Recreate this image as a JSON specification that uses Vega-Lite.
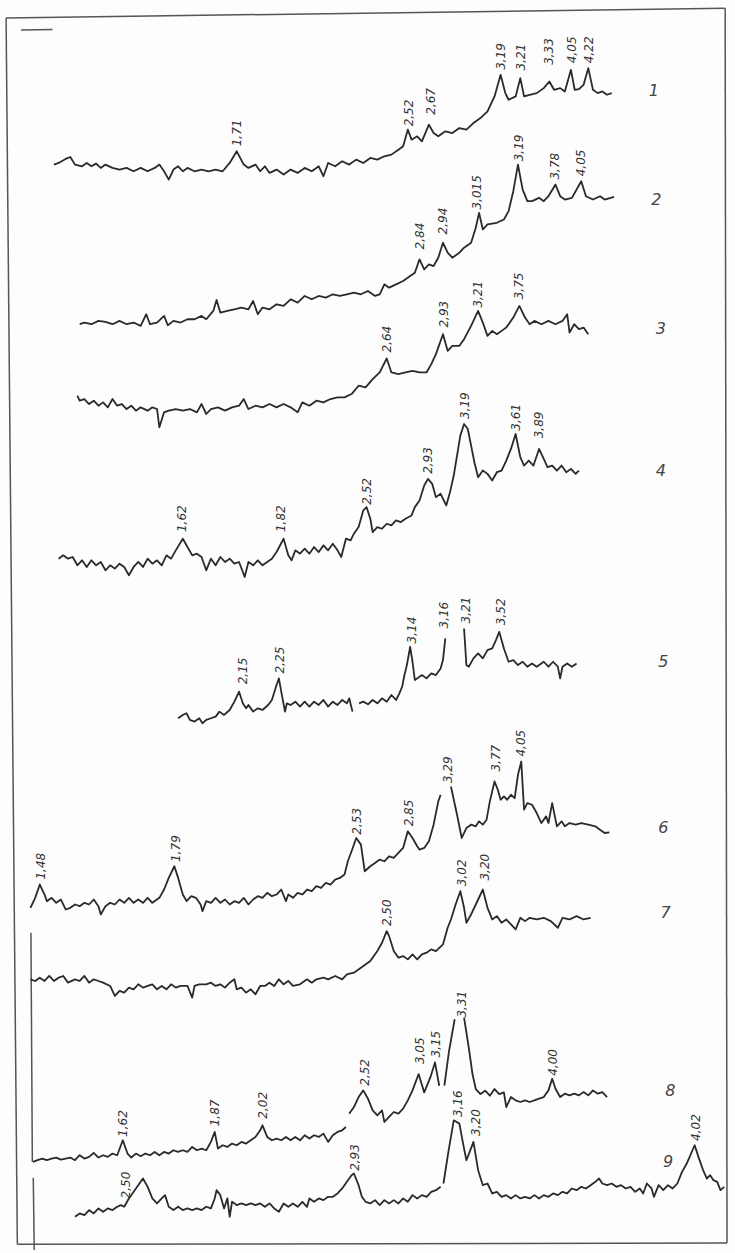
{
"$schema":"https://vega.github.io/schema/vega-lite/v6.json",
"width":735,"height":1253,"autosize":{"type":"fit","contains":"padding"},"padding":0,
"background":"#fdfdfd",
"config":{"view":{"stroke":null}},
"datasets":{
"fr":[
{"s":"top","x":13,"y":54},{"s":"top","x":1547,"y":25},
{"s":"left","x":13,"y":54},{"s":"left","x":37,"y":3742},
{"s":"right","x":1547,"y":25},{"s":"right","x":1551,"y":3738},
{"s":"bottom","x":37,"y":3742},{"s":"bottom","x":1551,"y":3738},
{"s":"dash","x":45,"y":90},{"s":"dash","x":112,"y":89},
{"s":"v1","x":66,"y":2805},{"s":"v1","x":69,"y":3494},
{"s":"v2","x":71,"y":3542},{"s":"v2","x":73,"y":3759}
],
"tr":[
{"s":"1","x":115,"y":495},{"s":"1","x":125,"y":490},{"s":"1","x":140,"y":478},{"s":"1","x":150,"y":472},{"s":"1","x":160,"y":495},{"s":"1","x":175,"y":500},{"s":"1","x":185,"y":490},{"s":"1","x":195,"y":500},{"s":"1","x":205,"y":492},{"s":"1","x":215,"y":505},{"s":"1","x":225,"y":495},{"s":"1","x":240,"y":505},{"s":"1","x":255,"y":510},{"s":"1","x":270,"y":505},{"s":"1","x":285,"y":515},{"s":"1","x":300,"y":505},{"s":"1","x":315,"y":515},{"s":"1","x":330,"y":505},{"s":"1","x":340,"y":495},{"s":"1","x":350,"y":515},{"s":"1","x":360,"y":540},{"s":"1","x":370,"y":510},{"s":"1","x":380,"y":500},{"s":"1","x":390,"y":515},{"s":"1","x":400,"y":505},{"s":"1","x":415,"y":515},{"s":"1","x":430,"y":510},{"s":"1","x":445,"y":515},{"s":"1","x":460,"y":510},{"s":"1","x":475,"y":515},{"s":"1","x":490,"y":490},{"s":"1","x":505,"y":455},{"s":"1","x":520,"y":495},{"s":"1","x":530,"y":505},{"s":"1","x":545,"y":495},{"s":"1","x":555,"y":515},{"s":"1","x":565,"y":500},{"s":"1","x":575,"y":520},{"s":"1","x":590,"y":510},{"s":"1","x":605,"y":525},{"s":"1","x":620,"y":510},{"s":"1","x":635,"y":520},{"s":"1","x":650,"y":505},{"s":"1","x":665,"y":515},{"s":"1","x":680,"y":500},{"s":"1","x":690,"y":530},{"s":"1","x":700,"y":490},{"s":"1","x":715,"y":500},{"s":"1","x":730,"y":485},{"s":"1","x":745,"y":495},{"s":"1","x":760,"y":480},{"s":"1","x":775,"y":490},{"s":"1","x":790,"y":475},{"s":"1","x":805,"y":480},{"s":"1","x":820,"y":470},{"s":"1","x":835,"y":465},{"s":"1","x":850,"y":450},{"s":"1","x":860,"y":440},{"s":"1","x":870,"y":390},{"s":"1","x":878,"y":420},{"s":"1","x":890,"y":410},{"s":"1","x":900,"y":425},{"s":"1","x":915,"y":375},{"s":"1","x":925,"y":400},{"s":"1","x":935,"y":410},{"s":"1","x":950,"y":395},{"s":"1","x":965,"y":400},{"s":"1","x":980,"y":385},{"s":"1","x":995,"y":390},{"s":"1","x":1010,"y":370},{"s":"1","x":1025,"y":355},{"s":"1","x":1040,"y":335},{"s":"1","x":1055,"y":290},{"s":"1","x":1068,"y":225},{"s":"1","x":1078,"y":280},{"s":"1","x":1085,"y":300},{"s":"1","x":1100,"y":290},{"s":"1","x":1110,"y":235},{"s":"1","x":1118,"y":290},{"s":"1","x":1130,"y":285},{"s":"1","x":1145,"y":280},{"s":"1","x":1160,"y":265},{"s":"1","x":1172,"y":245},{"s":"1","x":1182,"y":270},{"s":"1","x":1195,"y":265},{"s":"1","x":1205,"y":275},{"s":"1","x":1218,"y":210},{"s":"1","x":1226,"y":270},{"s":"1","x":1235,"y":268},{"s":"1","x":1245,"y":255},{"s":"1","x":1255,"y":205},{"s":"1","x":1265,"y":270},{"s":"1","x":1275,"y":280},{"s":"1","x":1285,"y":275},{"s":"1","x":1295,"y":285},{"s":"1","x":1305,"y":280},
{"s":"2","x":170,"y":975},{"s":"2","x":180,"y":970},{"s":"2","x":195,"y":975},{"s":"2","x":210,"y":965},{"s":"2","x":225,"y":968},{"s":"2","x":240,"y":975},{"s":"2","x":255,"y":965},{"s":"2","x":270,"y":975},{"s":"2","x":285,"y":970},{"s":"2","x":300,"y":980},{"s":"2","x":312,"y":945},{"s":"2","x":320,"y":975},{"s":"2","x":335,"y":970},{"s":"2","x":350,"y":950},{"s":"2","x":358,"y":978},{"s":"2","x":370,"y":965},{"s":"2","x":385,"y":970},{"s":"2","x":400,"y":960},{"s":"2","x":415,"y":960},{"s":"2","x":430,"y":950},{"s":"2","x":440,"y":960},{"s":"2","x":455,"y":935},{"s":"2","x":462,"y":902},{"s":"2","x":470,"y":940},{"s":"2","x":485,"y":935},{"s":"2","x":500,"y":930},{"s":"2","x":515,"y":925},{"s":"2","x":530,"y":930},{"s":"2","x":540,"y":905},{"s":"2","x":550,"y":945},{"s":"2","x":560,"y":925},{"s":"2","x":575,"y":930},{"s":"2","x":590,"y":915},{"s":"2","x":605,"y":920},{"s":"2","x":620,"y":900},{"s":"2","x":635,"y":910},{"s":"2","x":650,"y":890},{"s":"2","x":665,"y":900},{"s":"2","x":680,"y":890},{"s":"2","x":695,"y":895},{"s":"2","x":710,"y":885},{"s":"2","x":725,"y":890},{"s":"2","x":740,"y":885},{"s":"2","x":755,"y":880},{"s":"2","x":770,"y":885},{"s":"2","x":785,"y":875},{"s":"2","x":800,"y":890},{"s":"2","x":810,"y":885},{"s":"2","x":820,"y":855},{"s":"2","x":830,"y":865},{"s":"2","x":845,"y":855},{"s":"2","x":860,"y":845},{"s":"2","x":875,"y":830},{"s":"2","x":885,"y":820},{"s":"2","x":895,"y":780},{"s":"2","x":905,"y":810},{"s":"2","x":915,"y":795},{"s":"2","x":925,"y":800},{"s":"2","x":935,"y":775},{"s":"2","x":945,"y":730},{"s":"2","x":955,"y":760},{"s":"2","x":965,"y":775},{"s":"2","x":980,"y":760},{"s":"2","x":990,"y":745},{"s":"2","x":1005,"y":730},{"s":"2","x":1015,"y":685},{"s":"2","x":1022,"y":640},{"s":"2","x":1030,"y":690},{"s":"2","x":1040,"y":675},{"s":"2","x":1060,"y":670},{"s":"2","x":1075,"y":660},{"s":"2","x":1085,"y":635},{"s":"2","x":1095,"y":575},{"s":"2","x":1105,"y":495},{"s":"2","x":1115,"y":570},{"s":"2","x":1125,"y":605},{"s":"2","x":1135,"y":605},{"s":"2","x":1150,"y":595},{"s":"2","x":1160,"y":605},{"s":"2","x":1170,"y":590},{"s":"2","x":1185,"y":555},{"s":"2","x":1195,"y":590},{"s":"2","x":1205,"y":600},{"s":"2","x":1220,"y":595},{"s":"2","x":1240,"y":545},{"s":"2","x":1250,"y":590},{"s":"2","x":1265,"y":600},{"s":"2","x":1280,"y":590},{"s":"2","x":1290,"y":600},{"s":"2","x":1310,"y":592},
{"s":"3","x":165,"y":1190},{"s":"3","x":170,"y":1205},{"s":"3","x":180,"y":1200},{"s":"3","x":190,"y":1215},{"s":"3","x":200,"y":1205},{"s":"3","x":210,"y":1220},{"s":"3","x":220,"y":1210},{"s":"3","x":230,"y":1225},{"s":"3","x":240,"y":1200},{"s":"3","x":250,"y":1220},{"s":"3","x":260,"y":1215},{"s":"3","x":270,"y":1230},{"s":"3","x":280,"y":1220},{"s":"3","x":290,"y":1235},{"s":"3","x":300,"y":1225},{"s":"3","x":315,"y":1235},{"s":"3","x":325,"y":1225},{"s":"3","x":335,"y":1230},{"s":"3","x":340,"y":1285},{"s":"3","x":350,"y":1240},{"s":"3","x":360,"y":1235},{"s":"3","x":375,"y":1230},{"s":"3","x":390,"y":1235},{"s":"3","x":405,"y":1230},{"s":"3","x":420,"y":1240},{"s":"3","x":430,"y":1215},{"s":"3","x":440,"y":1245},{"s":"3","x":450,"y":1230},{"s":"3","x":465,"y":1225},{"s":"3","x":480,"y":1235},{"s":"3","x":495,"y":1225},{"s":"3","x":510,"y":1220},{"s":"3","x":520,"y":1200},{"s":"3","x":530,"y":1230},{"s":"3","x":545,"y":1220},{"s":"3","x":560,"y":1225},{"s":"3","x":575,"y":1215},{"s":"3","x":590,"y":1225},{"s":"3","x":605,"y":1215},{"s":"3","x":620,"y":1225},{"s":"3","x":635,"y":1240},{"s":"3","x":645,"y":1210},{"s":"3","x":660,"y":1220},{"s":"3","x":675,"y":1205},{"s":"3","x":690,"y":1210},{"s":"3","x":705,"y":1200},{"s":"3","x":720,"y":1195},{"s":"3","x":735,"y":1195},{"s":"3","x":750,"y":1185},{"s":"3","x":765,"y":1160},{"s":"3","x":780,"y":1165},{"s":"3","x":795,"y":1140},{"s":"3","x":810,"y":1120},{"s":"3","x":825,"y":1078},{"s":"3","x":835,"y":1120},{"s":"3","x":850,"y":1125},{"s":"3","x":865,"y":1120},{"s":"3","x":880,"y":1115},{"s":"3","x":895,"y":1120},{"s":"3","x":910,"y":1120},{"s":"3","x":920,"y":1095},{"s":"3","x":930,"y":1065},{"s":"3","x":945,"y":1005},{"s":"3","x":955,"y":1055},{"s":"3","x":965,"y":1040},{"s":"3","x":980,"y":1040},{"s":"3","x":990,"y":1020},{"s":"3","x":1005,"y":980},{"s":"3","x":1020,"y":935},{"s":"3","x":1030,"y":970},{"s":"3","x":1040,"y":1010},{"s":"3","x":1050,"y":995},{"s":"3","x":1060,"y":1005},{"s":"3","x":1070,"y":995},{"s":"3","x":1080,"y":985},{"s":"3","x":1095,"y":955},{"s":"3","x":1108,"y":920},{"s":"3","x":1120,"y":955},{"s":"3","x":1130,"y":975},{"s":"3","x":1140,"y":965},{"s":"3","x":1155,"y":975},{"s":"3","x":1170,"y":965},{"s":"3","x":1185,"y":975},{"s":"3","x":1200,"y":965},{"s":"3","x":1210,"y":945},{"s":"3","x":1215,"y":1000},{"s":"3","x":1225,"y":975},{"s":"3","x":1235,"y":990},{"s":"3","x":1245,"y":985},{"s":"3","x":1255,"y":1005},
{"s":"4","x":125,"y":1680},{"s":"4","x":135,"y":1670},{"s":"4","x":145,"y":1680},{"s":"4","x":155,"y":1675},{"s":"4","x":165,"y":1700},{"s":"4","x":175,"y":1685},{"s":"4","x":185,"y":1705},{"s":"4","x":195,"y":1685},{"s":"4","x":205,"y":1700},{"s":"4","x":215,"y":1690},{"s":"4","x":225,"y":1715},{"s":"4","x":235,"y":1700},{"s":"4","x":245,"y":1710},{"s":"4","x":255,"y":1695},{"s":"4","x":265,"y":1705},{"s":"4","x":275,"y":1730},{"s":"4","x":285,"y":1705},{"s":"4","x":295,"y":1690},{"s":"4","x":305,"y":1705},{"s":"4","x":315,"y":1680},{"s":"4","x":325,"y":1695},{"s":"4","x":335,"y":1685},{"s":"4","x":345,"y":1700},{"s":"4","x":355,"y":1670},{"s":"4","x":365,"y":1680},{"s":"4","x":375,"y":1655},{"s":"4","x":390,"y":1620},{"s":"4","x":400,"y":1645},{"s":"4","x":410,"y":1670},{"s":"4","x":420,"y":1665},{"s":"4","x":430,"y":1675},{"s":"4","x":440,"y":1715},{"s":"4","x":450,"y":1680},{"s":"4","x":460,"y":1700},{"s":"4","x":470,"y":1675},{"s":"4","x":480,"y":1690},{"s":"4","x":490,"y":1680},{"s":"4","x":500,"y":1695},{"s":"4","x":510,"y":1690},{"s":"4","x":522,"y":1735},{"s":"4","x":530,"y":1690},{"s":"4","x":540,"y":1700},{"s":"4","x":550,"y":1685},{"s":"4","x":560,"y":1700},{"s":"4","x":570,"y":1690},{"s":"4","x":580,"y":1680},{"s":"4","x":590,"y":1660},{"s":"4","x":605,"y":1620},{"s":"4","x":615,"y":1670},{"s":"4","x":622,"y":1685},{"s":"4","x":630,"y":1655},{"s":"4","x":640,"y":1665},{"s":"4","x":650,"y":1650},{"s":"4","x":660,"y":1665},{"s":"4","x":670,"y":1645},{"s":"4","x":680,"y":1660},{"s":"4","x":690,"y":1640},{"s":"4","x":700,"y":1655},{"s":"4","x":710,"y":1635},{"s":"4","x":720,"y":1655},{"s":"4","x":728,"y":1675},{"s":"4","x":738,"y":1620},{"s":"4","x":748,"y":1625},{"s":"4","x":755,"y":1605},{"s":"4","x":765,"y":1585},{"s":"4","x":775,"y":1535},{"s":"4","x":782,"y":1525},{"s":"4","x":790,"y":1560},{"s":"4","x":795,"y":1600},{"s":"4","x":805,"y":1585},{"s":"4","x":815,"y":1590},{"s":"4","x":825,"y":1575},{"s":"4","x":835,"y":1580},{"s":"4","x":845,"y":1565},{"s":"4","x":855,"y":1570},{"s":"4","x":865,"y":1560},{"s":"4","x":878,"y":1550},{"s":"4","x":885,"y":1525},{"s":"4","x":895,"y":1505},{"s":"4","x":905,"y":1460},{"s":"4","x":913,"y":1440},{"s":"4","x":922,"y":1455},{"s":"4","x":930,"y":1495},{"s":"4","x":940,"y":1485},{"s":"4","x":952,"y":1520},{"s":"4","x":960,"y":1480},{"s":"4","x":968,"y":1430},{"s":"4","x":975,"y":1370},{"s":"4","x":982,"y":1310},{"s":"4","x":990,"y":1275},{"s":"4","x":998,"y":1290},{"s":"4","x":1005,"y":1340},{"s":"4","x":1012,"y":1390},{"s":"4","x":1020,"y":1435},{"s":"4","x":1030,"y":1415},{"s":"4","x":1040,"y":1425},{"s":"4","x":1050,"y":1445},{"s":"4","x":1060,"y":1420},{"s":"4","x":1070,"y":1415},{"s":"4","x":1080,"y":1385},{"s":"4","x":1090,"y":1350},{"s":"4","x":1100,"y":1305},{"s":"4","x":1110,"y":1375},{"s":"4","x":1118,"y":1400},{"s":"4","x":1128,"y":1385},{"s":"4","x":1138,"y":1400},{"s":"4","x":1150,"y":1350},{"s":"4","x":1160,"y":1380},{"s":"4","x":1168,"y":1405},{"s":"4","x":1178,"y":1400},{"s":"4","x":1188,"y":1415},{"s":"4","x":1198,"y":1400},{"s":"4","x":1208,"y":1420},{"s":"4","x":1218,"y":1410},{"s":"4","x":1228,"y":1425},{"s":"4","x":1235,"y":1415},
{"s":"5a","x":380,"y":2160},{"s":"5a","x":390,"y":2150},{"s":"5a","x":398,"y":2145},{"s":"5a","x":405,"y":2165},{"s":"5a","x":415,"y":2170},{"s":"5a","x":425,"y":2160},{"s":"5a","x":432,"y":2175},{"s":"5a","x":440,"y":2165},{"s":"5a","x":450,"y":2160},{"s":"5a","x":460,"y":2155},{"s":"5a","x":468,"y":2140},{"s":"5a","x":478,"y":2150},{"s":"5a","x":490,"y":2135},{"s":"5a","x":500,"y":2110},{"s":"5a","x":510,"y":2080},{"s":"5a","x":518,"y":2115},{"s":"5a","x":525,"y":2130},{"s":"5a","x":530,"y":2120},{"s":"5a","x":540,"y":2140},{"s":"5a","x":550,"y":2130},{"s":"5a","x":560,"y":2135},{"s":"5a","x":572,"y":2120},{"s":"5a","x":580,"y":2105},{"s":"5a","x":590,"y":2060},{"s":"5a","x":595,"y":2040},{"s":"5a","x":600,"y":2080},{"s":"5a","x":608,"y":2140},{"s":"5a","x":612,"y":2115},{"s":"5a","x":620,"y":2120},{"s":"5a","x":630,"y":2110},{"s":"5a","x":640,"y":2125},{"s":"5a","x":650,"y":2110},{"s":"5a","x":660,"y":2125},{"s":"5a","x":670,"y":2110},{"s":"5a","x":680,"y":2120},{"s":"5a","x":690,"y":2105},{"s":"5a","x":700,"y":2125},{"s":"5a","x":710,"y":2110},{"s":"5a","x":720,"y":2120},{"s":"5a","x":730,"y":2105},{"s":"5a","x":740,"y":2115},{"s":"5a","x":745,"y":2100},{"s":"5a","x":752,"y":2140},
{"s":"5b","x":766,"y":2115},{"s":"5b","x":775,"y":2110},{"s":"5b","x":785,"y":2118},{"s":"5b","x":795,"y":2105},{"s":"5b","x":805,"y":2115},{"s":"5b","x":815,"y":2100},{"s":"5b","x":825,"y":2110},{"s":"5b","x":835,"y":2090},{"s":"5b","x":845,"y":2105},{"s":"5b","x":852,"y":2085},{"s":"5b","x":858,"y":2065},{"s":"5b","x":862,"y":2035},{"s":"5b","x":868,"y":2000},{"s":"5b","x":875,"y":1945},{"s":"5b","x":880,"y":1990},{"s":"5b","x":885,"y":2045},{"s":"5b","x":890,"y":2040},{"s":"5b","x":900,"y":2030},{"s":"5b","x":910,"y":2040},{"s":"5b","x":920,"y":2025},{"s":"5b","x":930,"y":2030},{"s":"5b","x":940,"y":2010},{"s":"5b","x":945,"y":1985},{"s":"5b","x":950,"y":1920},
{"s":"5c","x":990,"y":1890},{"s":"5c","x":995,"y":2000},{"s":"5c","x":1000,"y":2005},{"s":"5c","x":1010,"y":1980},{"s":"5c","x":1020,"y":1965},{"s":"5c","x":1030,"y":1980},{"s":"5c","x":1040,"y":1955},{"s":"5c","x":1050,"y":1950},{"s":"5c","x":1058,"y":1925},{"s":"5c","x":1065,"y":1900},{"s":"5c","x":1075,"y":1950},{"s":"5c","x":1085,"y":1990},{"s":"5c","x":1095,"y":1985},{"s":"5c","x":1105,"y":2000},{"s":"5c","x":1115,"y":1990},{"s":"5c","x":1125,"y":2005},{"s":"5c","x":1135,"y":1995},{"s":"5c","x":1145,"y":2005},{"s":"5c","x":1160,"y":1990},{"s":"5c","x":1170,"y":2005},{"s":"5c","x":1180,"y":1990},{"s":"5c","x":1190,"y":2005},{"s":"5c","x":1195,"y":2040},{"s":"5c","x":1200,"y":2005},{"s":"5c","x":1210,"y":1995},{"s":"5c","x":1220,"y":2005},{"s":"5c","x":1230,"y":1995},
{"s":"6a","x":65,"y":2730},{"s":"6a","x":75,"y":2700},{"s":"6a","x":85,"y":2660},{"s":"6a","x":95,"y":2690},{"s":"6a","x":100,"y":2710},{"s":"6a","x":110,"y":2700},{"s":"6a","x":120,"y":2715},{"s":"6a","x":130,"y":2705},{"s":"6a","x":140,"y":2735},{"s":"6a","x":150,"y":2730},{"s":"6a","x":160,"y":2720},{"s":"6a","x":170,"y":2725},{"s":"6a","x":180,"y":2715},{"s":"6a","x":190,"y":2720},{"s":"6a","x":200,"y":2705},{"s":"6a","x":210,"y":2725},{"s":"6a","x":215,"y":2750},{"s":"6a","x":225,"y":2725},{"s":"6a","x":235,"y":2715},{"s":"6a","x":245,"y":2720},{"s":"6a","x":255,"y":2705},{"s":"6a","x":265,"y":2715},{"s":"6a","x":275,"y":2700},{"s":"6a","x":285,"y":2715},{"s":"6a","x":295,"y":2705},{"s":"6a","x":305,"y":2715},{"s":"6a","x":315,"y":2700},{"s":"6a","x":325,"y":2715},{"s":"6a","x":340,"y":2700},{"s":"6a","x":350,"y":2675},{"s":"6a","x":360,"y":2640},{"s":"6a","x":372,"y":2605},{"s":"6a","x":380,"y":2640},{"s":"6a","x":390,"y":2690},{"s":"6a","x":398,"y":2710},{"s":"6a","x":408,"y":2695},{"s":"6a","x":418,"y":2700},{"s":"6a","x":428,"y":2720},{"s":"6a","x":432,"y":2740},{"s":"6a","x":440,"y":2710},{"s":"6a","x":450,"y":2715},{"s":"6a","x":460,"y":2700},{"s":"6a","x":470,"y":2715},{"s":"6a","x":480,"y":2705},{"s":"6a","x":490,"y":2720},{"s":"6a","x":500,"y":2710},{"s":"6a","x":510,"y":2715},{"s":"6a","x":520,"y":2700},{"s":"6a","x":530,"y":2720},{"s":"6a","x":540,"y":2705},{"s":"6a","x":550,"y":2695},{"s":"6a","x":560,"y":2700},{"s":"6a","x":570,"y":2685},{"s":"6a","x":580,"y":2695},{"s":"6a","x":590,"y":2690},{"s":"6a","x":600,"y":2675},{"s":"6a","x":610,"y":2710},{"s":"6a","x":615,"y":2690},{"s":"6a","x":625,"y":2700},{"s":"6a","x":635,"y":2685},{"s":"6a","x":645,"y":2690},{"s":"6a","x":655,"y":2675},{"s":"6a","x":665,"y":2680},{"s":"6a","x":675,"y":2665},{"s":"6a","x":685,"y":2670},{"s":"6a","x":695,"y":2655},{"s":"6a","x":705,"y":2660},{"s":"6a","x":715,"y":2645},{"s":"6a","x":725,"y":2640},{"s":"6a","x":735,"y":2630},{"s":"6a","x":742,"y":2590},{"s":"6a","x":750,"y":2560},{"s":"6a","x":760,"y":2520},{"s":"6a","x":770,"y":2540},{"s":"6a","x":778,"y":2620},{"s":"6a","x":790,"y":2605},{"s":"6a","x":800,"y":2595},{"s":"6a","x":810,"y":2585},{"s":"6a","x":820,"y":2590},{"s":"6a","x":830,"y":2575},{"s":"6a","x":840,"y":2580},{"s":"6a","x":850,"y":2565},{"s":"6a","x":860,"y":2550},{"s":"6a","x":870,"y":2500},{"s":"6a","x":880,"y":2520},{"s":"6a","x":890,"y":2545},{"s":"6a","x":895,"y":2555},{"s":"6a","x":905,"y":2550},{"s":"6a","x":915,"y":2530},{"s":"6a","x":925,"y":2480},{"s":"6a","x":935,"y":2410},{"s":"6a","x":940,"y":2390},
{"s":"6b","x":962,"y":2365},{"s":"6b","x":975,"y":2450},{"s":"6b","x":985,"y":2520},{"s":"6b","x":995,"y":2490},{"s":"6b","x":1005,"y":2480},{"s":"6b","x":1015,"y":2485},{"s":"6b","x":1022,"y":2470},{"s":"6b","x":1030,"y":2480},{"s":"6b","x":1038,"y":2465},{"s":"6b","x":1045,"y":2410},{"s":"6b","x":1055,"y":2350},{"s":"6b","x":1062,"y":2375},{"s":"6b","x":1068,"y":2405},{"s":"6b","x":1075,"y":2395},{"s":"6b","x":1082,"y":2405},{"s":"6b","x":1090,"y":2390},{"s":"6b","x":1098,"y":2400},{"s":"6b","x":1105,"y":2330},{"s":"6b","x":1112,"y":2290},{"s":"6b","x":1118,"y":2435},{"s":"6b","x":1125,"y":2415},{"s":"6b","x":1135,"y":2420},{"s":"6b","x":1145,"y":2445},{"s":"6b","x":1155,"y":2475},{"s":"6b","x":1165,"y":2455},{"s":"6b","x":1170,"y":2475},{"s":"6b","x":1178,"y":2415},{"s":"6b","x":1188,"y":2485},{"s":"6b","x":1198,"y":2470},{"s":"6b","x":1205,"y":2485},{"s":"6b","x":1215,"y":2475},{"s":"6b","x":1228,"y":2480},{"s":"6b","x":1240,"y":2475},{"s":"6b","x":1255,"y":2480},{"s":"6b","x":1270,"y":2485},{"s":"6b","x":1280,"y":2495},{"s":"6b","x":1290,"y":2505},{"s":"6b","x":1300,"y":2503},
{"s":"7","x":65,"y":2945},{"s":"7","x":75,"y":2950},{"s":"7","x":85,"y":2940},{"s":"7","x":95,"y":2950},{"s":"7","x":105,"y":2935},{"s":"7","x":115,"y":2950},{"s":"7","x":125,"y":2940},{"s":"7","x":135,"y":2935},{"s":"7","x":145,"y":2955},{"s":"7","x":160,"y":2945},{"s":"7","x":170,"y":2950},{"s":"7","x":180,"y":2935},{"s":"7","x":190,"y":2955},{"s":"7","x":200,"y":2945},{"s":"7","x":210,"y":2950},{"s":"7","x":220,"y":2955},{"s":"7","x":235,"y":2965},{"s":"7","x":245,"y":2995},{"s":"7","x":255,"y":2980},{"s":"7","x":265,"y":2985},{"s":"7","x":275,"y":2970},{"s":"7","x":285,"y":2975},{"s":"7","x":295,"y":2960},{"s":"7","x":305,"y":2970},{"s":"7","x":315,"y":2965},{"s":"7","x":325,"y":2960},{"s":"7","x":335,"y":2975},{"s":"7","x":345,"y":2965},{"s":"7","x":355,"y":2975},{"s":"7","x":365,"y":2960},{"s":"7","x":375,"y":2970},{"s":"7","x":385,"y":2965},{"s":"7","x":400,"y":2965},{"s":"7","x":410,"y":3000},{"s":"7","x":415,"y":2965},{"s":"7","x":425,"y":2960},{"s":"7","x":440,"y":2960},{"s":"7","x":450,"y":2955},{"s":"7","x":460,"y":2965},{"s":"7","x":470,"y":2960},{"s":"7","x":480,"y":2970},{"s":"7","x":490,"y":2955},{"s":"7","x":500,"y":2945},{"s":"7","x":505,"y":2975},{"s":"7","x":515,"y":2970},{"s":"7","x":525,"y":2985},{"s":"7","x":535,"y":2975},{"s":"7","x":545,"y":2990},{"s":"7","x":555,"y":2965},{"s":"7","x":565,"y":2965},{"s":"7","x":575,"y":2955},{"s":"7","x":585,"y":2965},{"s":"7","x":595,"y":2945},{"s":"7","x":605,"y":2960},{"s":"7","x":615,"y":2950},{"s":"7","x":625,"y":2965},{"s":"7","x":640,"y":2960},{"s":"7","x":655,"y":2945},{"s":"7","x":665,"y":2955},{"s":"7","x":675,"y":2945},{"s":"7","x":690,"y":2940},{"s":"7","x":700,"y":2945},{"s":"7","x":715,"y":2935},{"s":"7","x":730,"y":2945},{"s":"7","x":740,"y":2930},{"s":"7","x":755,"y":2925},{"s":"7","x":770,"y":2910},{"s":"7","x":790,"y":2890},{"s":"7","x":805,"y":2860},{"s":"7","x":815,"y":2835},{"s":"7","x":825,"y":2800},{"s":"7","x":830,"y":2815},{"s":"7","x":840,"y":2860},{"s":"7","x":850,"y":2880},{"s":"7","x":860,"y":2875},{"s":"7","x":870,"y":2885},{"s":"7","x":880,"y":2870},{"s":"7","x":890,"y":2885},{"s":"7","x":900,"y":2870},{"s":"7","x":910,"y":2865},{"s":"7","x":920,"y":2855},{"s":"7","x":930,"y":2860},{"s":"7","x":945,"y":2840},{"s":"7","x":955,"y":2790},{"s":"7","x":962,"y":2765},{"s":"7","x":972,"y":2720},{"s":"7","x":982,"y":2680},{"s":"7","x":990,"y":2730},{"s":"7","x":995,"y":2775},{"s":"7","x":1005,"y":2750},{"s":"7","x":1015,"y":2720},{"s":"7","x":1030,"y":2675},{"s":"7","x":1040,"y":2730},{"s":"7","x":1050,"y":2765},{"s":"7","x":1060,"y":2755},{"s":"7","x":1070,"y":2775},{"s":"7","x":1080,"y":2765},{"s":"7","x":1090,"y":2780},{"s":"7","x":1100,"y":2795},{"s":"7","x":1110,"y":2760},{"s":"7","x":1120,"y":2770},{"s":"7","x":1130,"y":2760},{"s":"7","x":1145,"y":2765},{"s":"7","x":1160,"y":2760},{"s":"7","x":1175,"y":2770},{"s":"7","x":1190,"y":2790},{"s":"7","x":1200,"y":2760},{"s":"7","x":1215,"y":2765},{"s":"7","x":1230,"y":2755},{"s":"7","x":1245,"y":2765},{"s":"7","x":1260,"y":2760},
{"s":"8a","x":70,"y":3494},{"s":"8a","x":80,"y":3489},{"s":"8a","x":90,"y":3484},{"s":"8a","x":100,"y":3489},{"s":"8a","x":110,"y":3484},{"s":"8a","x":120,"y":3481},{"s":"8a","x":130,"y":3487},{"s":"8a","x":140,"y":3484},{"s":"8a","x":150,"y":3481},{"s":"8a","x":160,"y":3489},{"s":"8a","x":170,"y":3474},{"s":"8a","x":180,"y":3484},{"s":"8a","x":190,"y":3479},{"s":"8a","x":200,"y":3467},{"s":"8a","x":210,"y":3481},{"s":"8a","x":220,"y":3474},{"s":"8a","x":230,"y":3479},{"s":"8a","x":240,"y":3469},{"s":"8a","x":250,"y":3474},{"s":"8a","x":262,"y":3429},{"s":"8a","x":272,"y":3469},{"s":"8a","x":280,"y":3481},{"s":"8a","x":290,"y":3469},{"s":"8a","x":300,"y":3477},{"s":"8a","x":310,"y":3469},{"s":"8a","x":320,"y":3474},{"s":"8a","x":330,"y":3464},{"s":"8a","x":340,"y":3474},{"s":"8a","x":350,"y":3464},{"s":"8a","x":360,"y":3469},{"s":"8a","x":370,"y":3459},{"s":"8a","x":380,"y":3464},{"s":"8a","x":390,"y":3459},{"s":"8a","x":400,"y":3464},{"s":"8a","x":410,"y":3449},{"s":"8a","x":420,"y":3459},{"s":"8a","x":430,"y":3454},{"s":"8a","x":440,"y":3459},{"s":"8a","x":450,"y":3434},{"s":"8a","x":458,"y":3404},{"s":"8a","x":465,"y":3454},{"s":"8a","x":475,"y":3444},{"s":"8a","x":485,"y":3449},{"s":"8a","x":495,"y":3439},{"s":"8a","x":505,"y":3444},{"s":"8a","x":515,"y":3434},{"s":"8a","x":525,"y":3439},{"s":"8a","x":535,"y":3429},{"s":"8a","x":545,"y":3419},{"s":"8a","x":555,"y":3399},{"s":"8a","x":560,"y":3384},{"s":"8a","x":570,"y":3419},{"s":"8a","x":580,"y":3429},{"s":"8a","x":590,"y":3424},{"s":"8a","x":600,"y":3429},{"s":"8a","x":610,"y":3419},{"s":"8a","x":620,"y":3429},{"s":"8a","x":630,"y":3419},{"s":"8a","x":640,"y":3429},{"s":"8a","x":650,"y":3414},{"s":"8a","x":660,"y":3424},{"s":"8a","x":670,"y":3414},{"s":"8a","x":680,"y":3419},{"s":"8a","x":690,"y":3409},{"s":"8a","x":700,"y":3434},{"s":"8a","x":710,"y":3414},{"s":"8a","x":720,"y":3404},{"s":"8a","x":730,"y":3399},{"s":"8a","x":738,"y":3389},
{"s":"8b","x":745,"y":3349},{"s":"8b","x":755,"y":3329},{"s":"8b","x":765,"y":3299},{"s":"8b","x":775,"y":3279},{"s":"8b","x":785,"y":3304},{"s":"8b","x":795,"y":3339},{"s":"8b","x":805,"y":3354},{"s":"8b","x":815,"y":3339},{"s":"8b","x":820,"y":3374},{"s":"8b","x":830,"y":3359},{"s":"8b","x":840,"y":3344},{"s":"8b","x":850,"y":3349},{"s":"8b","x":860,"y":3334},{"s":"8b","x":870,"y":3309},{"s":"8b","x":880,"y":3279},{"s":"8b","x":888,"y":3249},{"s":"8b","x":893,"y":3230},{"s":"8b","x":905,"y":3285},{"s":"8b","x":918,"y":3240},{"s":"8b","x":928,"y":3195},{"s":"8b","x":937,"y":3265},
{"s":"8c","x":948,"y":3265},{"s":"8c","x":958,"y":3160},{"s":"8c","x":970,"y":3065},
{"s":"8d","x":990,"y":3060},{"s":"8d","x":1000,"y":3150},{"s":"8d","x":1008,"y":3230},{"s":"8d","x":1015,"y":3275},{"s":"8d","x":1025,"y":3290},{"s":"8d","x":1035,"y":3280},{"s":"8d","x":1045,"y":3295},{"s":"8d","x":1055,"y":3275},{"s":"8d","x":1065,"y":3290},{"s":"8d","x":1075,"y":3285},{"s":"8d","x":1080,"y":3329},{"s":"8d","x":1090,"y":3299},{"s":"8d","x":1100,"y":3309},{"s":"8d","x":1110,"y":3314},{"s":"8d","x":1120,"y":3309},{"s":"8d","x":1130,"y":3314},{"s":"8d","x":1140,"y":3309},{"s":"8d","x":1150,"y":3304},{"s":"8d","x":1160,"y":3299},{"s":"8d","x":1170,"y":3279},{"s":"8d","x":1178,"y":3244},{"s":"8d","x":1185,"y":3274},{"s":"8d","x":1195,"y":3299},{"s":"8d","x":1205,"y":3289},{"s":"8d","x":1215,"y":3294},{"s":"8d","x":1225,"y":3289},{"s":"8d","x":1235,"y":3294},{"s":"8d","x":1245,"y":3284},{"s":"8d","x":1255,"y":3294},{"s":"8d","x":1265,"y":3279},{"s":"8d","x":1275,"y":3289},{"s":"8d","x":1285,"y":3284},{"s":"8d","x":1295,"y":3299},
{"s":"9a","x":160,"y":3659},{"s":"9a","x":170,"y":3649},{"s":"9a","x":180,"y":3654},{"s":"9a","x":190,"y":3639},{"s":"9a","x":200,"y":3649},{"s":"9a","x":210,"y":3634},{"s":"9a","x":220,"y":3644},{"s":"9a","x":230,"y":3634},{"s":"9a","x":240,"y":3639},{"s":"9a","x":250,"y":3629},{"s":"9a","x":258,"y":3624},{"s":"9a","x":265,"y":3629},{"s":"9a","x":275,"y":3604},{"s":"9a","x":290,"y":3574},{"s":"9a","x":305,"y":3544},{"s":"9a","x":315,"y":3569},{"s":"9a","x":325,"y":3604},{"s":"9a","x":335,"y":3619},{"s":"9a","x":345,"y":3604},{"s":"9a","x":352,"y":3594},{"s":"9a","x":360,"y":3629},{"s":"9a","x":370,"y":3639},{"s":"9a","x":380,"y":3629},{"s":"9a","x":390,"y":3639},{"s":"9a","x":400,"y":3634},{"s":"9a","x":410,"y":3639},{"s":"9a","x":420,"y":3634},{"s":"9a","x":430,"y":3639},{"s":"9a","x":440,"y":3629},{"s":"9a","x":450,"y":3634},{"s":"9a","x":458,"y":3604},{"s":"9a","x":462,"y":3579},{"s":"9a","x":470,"y":3594},{"s":"9a","x":478,"y":3634},{"s":"9a","x":485,"y":3604},{"s":"9a","x":490,"y":3659},{"s":"9a","x":495,"y":3614},{"s":"9a","x":505,"y":3624},{"s":"9a","x":515,"y":3619},{"s":"9a","x":525,"y":3624},{"s":"9a","x":535,"y":3619},{"s":"9a","x":545,"y":3624},{"s":"9a","x":555,"y":3619},{"s":"9a","x":565,"y":3629},{"s":"9a","x":575,"y":3619},{"s":"9a","x":585,"y":3634},{"s":"9a","x":595,"y":3644},{"s":"9a","x":605,"y":3619},{"s":"9a","x":615,"y":3629},{"s":"9a","x":625,"y":3619},{"s":"9a","x":635,"y":3629},{"s":"9a","x":645,"y":3614},{"s":"9a","x":655,"y":3629},{"s":"9a","x":660,"y":3604},{"s":"9a","x":670,"y":3614},{"s":"9a","x":680,"y":3604},{"s":"9a","x":690,"y":3609},{"s":"9a","x":700,"y":3599},{"s":"9a","x":710,"y":3599},{"s":"9a","x":720,"y":3589},{"s":"9a","x":730,"y":3574},{"s":"9a","x":740,"y":3554},{"s":"9a","x":750,"y":3534},{"s":"9a","x":755,"y":3529},{"s":"9a","x":765,"y":3564},{"s":"9a","x":772,"y":3599},{"s":"9a","x":780,"y":3614},{"s":"9a","x":790,"y":3619},{"s":"9a","x":800,"y":3609},{"s":"9a","x":810,"y":3624},{"s":"9a","x":820,"y":3609},{"s":"9a","x":830,"y":3619},{"s":"9a","x":840,"y":3609},{"s":"9a","x":850,"y":3619},{"s":"9a","x":860,"y":3604},{"s":"9a","x":870,"y":3614},{"s":"9a","x":880,"y":3594},{"s":"9a","x":890,"y":3604},{"s":"9a","x":900,"y":3594},{"s":"9a","x":910,"y":3599},{"s":"9a","x":920,"y":3584},{"s":"9a","x":930,"y":3579},{"s":"9a","x":940,"y":3569},
{"s":"9b","x":946,"y":3559},{"s":"9b","x":957,"y":3460},{"s":"9b","x":968,"y":3369},{"s":"9b","x":980,"y":3379},{"s":"9b","x":988,"y":3440},{"s":"9b","x":995,"y":3489},{"s":"9b","x":1003,"y":3460},{"s":"9b","x":1010,"y":3434},{"s":"9b","x":1020,"y":3519},{"s":"9b","x":1030,"y":3564},{"s":"9b","x":1040,"y":3559},{"s":"9b","x":1050,"y":3589},{"s":"9b","x":1060,"y":3584},{"s":"9b","x":1070,"y":3599},{"s":"9b","x":1080,"y":3594},{"s":"9b","x":1090,"y":3604},{"s":"9b","x":1100,"y":3594},{"s":"9b","x":1110,"y":3604},{"s":"9b","x":1120,"y":3599},{"s":"9b","x":1130,"y":3604},{"s":"9b","x":1140,"y":3594},{"s":"9b","x":1150,"y":3604},{"s":"9b","x":1160,"y":3594},{"s":"9b","x":1170,"y":3599},{"s":"9b","x":1180,"y":3589},{"s":"9b","x":1190,"y":3594},{"s":"9b","x":1200,"y":3584},{"s":"9b","x":1210,"y":3589},{"s":"9b","x":1220,"y":3574},{"s":"9b","x":1230,"y":3579},{"s":"9b","x":1240,"y":3569},{"s":"9b","x":1250,"y":3574},{"s":"9b","x":1260,"y":3564},{"s":"9b","x":1270,"y":3554},{"s":"9b","x":1278,"y":3544},{"s":"9b","x":1285,"y":3559},{"s":"9b","x":1295,"y":3564},{"s":"9b","x":1305,"y":3559},{"s":"9b","x":1315,"y":3569},{"s":"9b","x":1325,"y":3564},{"s":"9b","x":1335,"y":3574},{"s":"9b","x":1345,"y":3569},{"s":"9b","x":1355,"y":3584},{"s":"9b","x":1365,"y":3574},{"s":"9b","x":1372,"y":3589},{"s":"9b","x":1380,"y":3559},{"s":"9b","x":1390,"y":3574},{"s":"9b","x":1395,"y":3599},{"s":"9b","x":1405,"y":3564},{"s":"9b","x":1415,"y":3579},{"s":"9b","x":1425,"y":3564},{"s":"9b","x":1435,"y":3574},{"s":"9b","x":1445,"y":3559},{"s":"9b","x":1455,"y":3524},{"s":"9b","x":1465,"y":3499},{"s":"9b","x":1482,"y":3444},{"s":"9b","x":1490,"y":3479},{"s":"9b","x":1500,"y":3519},{"s":"9b","x":1508,"y":3544},{"s":"9b","x":1515,"y":3534},{"s":"9b","x":1522,"y":3549},{"s":"9b","x":1530,"y":3554},{"s":"9b","x":1537,"y":3579},{"s":"9b","x":1545,"y":3569}
],
"lb":[
{"t":"1,71","x":505,"y":440},{"t":"2,52","x":872,"y":380},{"t":"2,67","x":920,"y":345},{"t":"3,19","x":1068,"y":210},{"t":"3,21","x":1112,"y":212},{"t":"3,33","x":1172,"y":195},{"t":"4,05","x":1221,"y":190},{"t":"4,22","x":1256,"y":190},
{"t":"2,84","x":897,"y":750},{"t":"2,94","x":945,"y":705},{"t":"3,015","x":1018,"y":630},{"t":"3,19","x":1108,"y":485},{"t":"3,78","x":1185,"y":540},{"t":"4,05","x":1240,"y":530},
{"t":"2,64","x":825,"y":1060},{"t":"2,93","x":948,"y":985},{"t":"3,21","x":1020,"y":925},{"t":"3,75","x":1108,"y":900},
{"t":"1,62","x":388,"y":1600},{"t":"1,82","x":600,"y":1600},{"t":"2,52","x":782,"y":1518},{"t":"2,93","x":912,"y":1425},{"t":"3,19","x":992,"y":1260},{"t":"3,61","x":1100,"y":1295},{"t":"3,89","x":1150,"y":1318},
{"t":"2,15","x":518,"y":2058},{"t":"2,25","x":597,"y":2025},{"t":"3,14","x":878,"y":1935},{"t":"3,16","x":948,"y":1890},{"t":"3,21","x":995,"y":1875},{"t":"3,52","x":1068,"y":1880},
{"t":"1,48","x":88,"y":2645},{"t":"1,79","x":375,"y":2592},{"t":"2,53","x":762,"y":2510},{"t":"2,85","x":872,"y":2485},{"t":"3,29","x":955,"y":2355},{"t":"3,77","x":1058,"y":2320},{"t":"4,05","x":1112,"y":2275},
{"t":"2,50","x":825,"y":2785},{"t":"3,02","x":985,"y":2665},{"t":"3,20","x":1035,"y":2648},
{"t":"1,62","x":262,"y":3419},{"t":"1,87","x":458,"y":3387},{"t":"2,02","x":560,"y":3364},{"t":"2,52","x":778,"y":3265},{"t":"3,05","x":895,"y":3200},{"t":"3,15","x":930,"y":3180},{"t":"3,31","x":985,"y":3060},{"t":"4,00","x":1180,"y":3235},
{"t":"2,50","x":268,"y":3604},{"t":"2,93","x":757,"y":3521},{"t":"3,16","x":978,"y":3359},{"t":"3,20","x":1015,"y":3416},{"t":"4,02","x":1485,"y":3431}
],
"nm":[
{"t":"1","x":1395,"y":275},{"t":"2","x":1400,"y":600},{"t":"3","x":1410,"y":990},{"t":"4","x":1410,"y":1415},{"t":"5","x":1415,"y":1990},{"t":"6","x":1415,"y":2490},{"t":"7","x":1420,"y":2745},{"t":"8","x":1430,"y":3280},{"t":"9","x":1425,"y":3494}
]
},
"encoding":{
"x":{"field":"x","type":"quantitative","scale":{"domain":[0,1568],"nice":false,"zero":false},"axis":null},
"y":{"field":"y","type":"quantitative","scale":{"domain":[0,3759],"reverse":true,"nice":false,"zero":false},"axis":null}
},
"layer":[
{"data":{"name":"fr"},"mark":{"type":"line","stroke":"#555","strokeWidth":1.5},"encoding":{"detail":{"field":"s"}}},
{"data":{"name":"tr"},"mark":{"type":"line","stroke":"#2a2a2a","strokeWidth":1.8,"strokeJoin":"round"},"encoding":{"detail":{"field":"s"}}},
{"data":{"name":"lb"},"mark":{"type":"text","angle":270,"align":"left","baseline":"middle","font":"DejaVu Sans","fontStyle":"italic","fontSize":12,"fill":"#333"},"encoding":{"text":{"field":"t"}}},
{"data":{"name":"nm"},"mark":{"type":"text","align":"center","baseline":"middle","font":"DejaVu Sans","fontStyle":"italic","fontSize":16,"fill":"#444"},"encoding":{"text":{"field":"t"}}}
]
}
